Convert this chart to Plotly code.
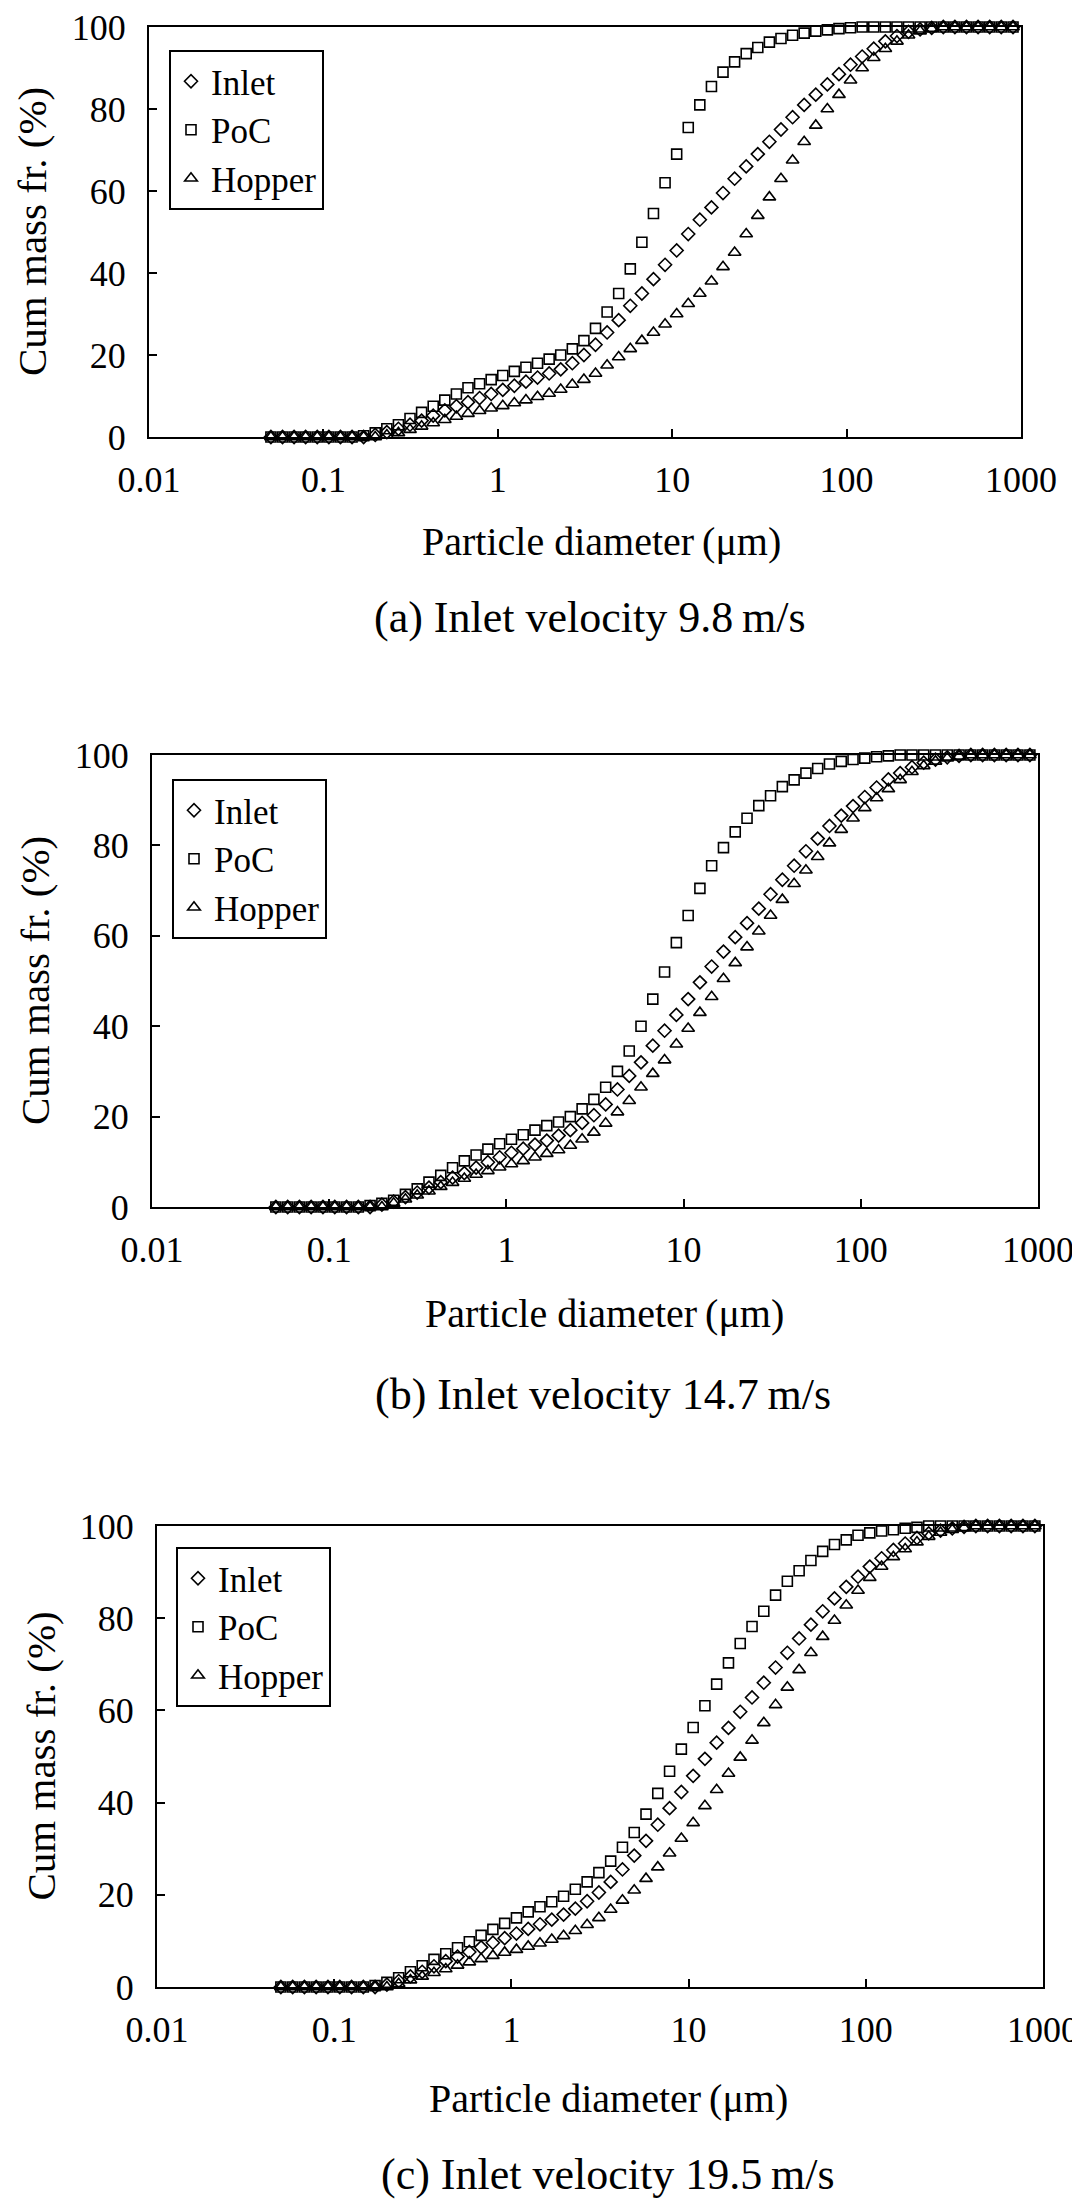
import plotly.graph_objects as go

# ---------------- data ----------------
# particle size bins (um) (log spaced, 0.05-900 um)
X_BINS = [0.05, 0.0583, 0.0679, 0.0791, 0.0922, 0.1075, 0.1253, 0.146, 0.1701, 0.1983,
          0.2311, 0.2693, 0.3138, 0.3657, 0.4262, 0.4967, 0.5789, 0.6746, 0.7862, 0.9162,
          1.068, 1.244, 1.45, 1.69, 1.97, 2.295, 2.675, 3.117, 3.633, 4.234,
          4.934, 5.75, 6.701, 7.809, 9.101, 10.61, 12.36, 14.4, 16.79, 19.56,
          22.8, 26.57, 30.96, 36.08, 42.05, 49.01, 57.11, 66.56, 77.57, 90.4,
          105.3, 122.8, 143.1, 166.8, 194.4, 226.5, 264.0, 307.6, 358.5, 417.8,
          486.9, 567.4, 661.3, 770.6, 900.0]

# (a) inlet velocity 9.8 m/s
A_INLET = [0, 0, 0, 0, 0, 0, 0, 0, 0, 0.5,
           1.2, 2, 3, 4, 5.2, 6.5, 7.5, 8.5, 9.5, 10.5,
           11.5, 12.5, 13.5, 14.5, 15.5, 16.5, 18, 20, 22.5, 25.5,
           28.5, 32, 35, 38.5, 42, 45.5, 49.5, 53, 56, 59.5,
           63, 66, 69, 72, 75, 78, 81, 83.5, 86, 88.5,
           90.8, 92.8, 94.7, 96.5, 97.8, 98.8, 99.4, 99.8, 100, 100,
           100, 100, 100, 100, 100]
A_POC = [0, 0, 0, 0, 0, 0, 0, 0, 0.3, 1,
         2, 3, 4.5, 6, 7.5, 9, 10.5, 12, 13, 14,
         15, 16, 17, 18, 19, 20, 21.5, 23.5, 26.5, 30.5,
         35, 41, 47.5, 54.5, 62, 69, 75.5, 81, 85.5, 89,
         91.5, 93.5, 95, 96.3, 97.2, 98, 98.5, 99, 99.3, 99.6,
         99.8, 100, 100, 100, 100, 100, 100, 100, 100, 100,
         100, 100, 100, 100, 100]
A_HOPPER = [0, 0, 0, 0, 0, 0, 0, 0, 0, 0,
            0.5, 1, 1.8, 2.6, 3.4, 4.2, 5, 5.7, 6.4, 7,
            7.6, 8.3, 9, 9.8, 10.6, 11.6, 12.8, 14, 15.5, 17.5,
            19.5, 21.5, 23.5, 25.5, 27.5, 30, 32.5, 35, 38, 41.5,
            45, 49.5, 54, 58.5, 63, 67.5, 72, 76, 80, 83.5,
            87, 90, 92.5, 94.7, 96.5, 98, 99, 99.6, 100, 100,
            100, 100, 100, 100, 100]

# (b) inlet velocity 14.7 m/s
B_INLET = [0, 0, 0, 0, 0, 0, 0, 0, 0, 0.5,
           1.2, 2.2, 3.2, 4.3, 5.5, 6.5, 7.5, 8.7, 9.9, 11,
           12, 12.9, 13.8, 14.7, 15.8, 17, 18.6, 20.3, 22.7, 26,
           29, 32, 35.7, 39, 42.5, 46, 49.7, 53.2, 56.5, 59.7,
           62.8, 66, 69.2, 72.4, 75.5, 78.7, 81.5, 84.3, 86.6, 88.7,
           90.7, 92.8, 94.6, 96, 97.3, 98.3, 99, 99.5, 99.8, 100,
           100, 100, 100, 100, 100]
B_POC = [0, 0, 0, 0, 0, 0, 0, 0, 0.3, 0.8,
         1.5, 2.8, 4, 5.5, 7, 8.7, 10.2, 11.5, 12.8, 14,
         15, 16, 17, 18, 18.8, 20, 21.7, 23.8, 26.5, 30,
         34.5, 40, 46, 52, 58.5, 64.5, 70.5, 75.5, 79.5, 83,
         86, 88.8, 91, 93, 94.5, 96, 97, 98, 98.6, 99,
         99.3, 99.6, 99.8, 100, 100, 100, 100, 100, 100, 100,
         100, 100, 100, 100, 100]
B_HOPPER = [0, 0, 0, 0, 0, 0, 0, 0, 0, 0,
            0.8, 1.7, 2.6, 3.5, 4.5, 5.4, 6.3, 7.2, 8, 8.8,
            9.5, 10.2, 11, 11.8, 12.6, 13.6, 15, 16.5, 18.5, 21,
            23.5, 26.5, 29.5, 32.5, 36, 39.5, 43, 46.5, 50.5, 54,
            57.5, 61, 64.5, 68, 71.5, 74.5, 77.5, 80.5, 83.5, 86,
            88.3, 90.5, 92.5, 94.5, 96.3, 97.6, 98.6, 99.3, 99.7, 100,
            100, 100, 100, 100, 100]

# (c) inlet velocity 19.5 m/s
C_INLET = [0, 0, 0, 0, 0, 0, 0, 0, 0, 0.5,
           1.3, 2.3, 3.3, 4.5, 5.6, 6.6, 7.6, 8.6, 9.6, 10.6,
           11.6, 12.6, 13.6, 14.6, 15.7, 17, 18.6, 20.5, 22.8, 25.5,
           28.5, 31.7, 35.2, 38.8, 42.3, 45.8, 49.5, 53, 56.2, 59.7,
           62.8, 66, 69.3, 72.5, 75.6, 78.6, 81.5, 84.3, 86.8, 89,
           91.2, 93, 94.8, 96.2, 97.4, 98.4, 99, 99.5, 99.8, 100,
           100, 100, 100, 100, 100]
C_POC = [0, 0, 0, 0, 0, 0, 0, 0, 0.3, 1,
         2, 3.3, 4.6, 6, 7.2, 8.5, 9.8, 11.2, 12.5, 13.8,
         15, 16.3, 17.4, 18.5, 19.7, 21.2, 22.8, 24.8, 27.3, 30.3,
         33.5, 37.5, 42, 46.8, 51.6, 56.3, 61, 65.7, 70.3, 74.5,
         78.2, 81.5, 85, 88, 90.3, 92.5, 94.5, 96, 97, 98,
         98.5, 98.9, 99.2, 99.5, 99.7, 100, 100, 100, 100, 100,
         100, 100, 100, 100, 100]
C_HOPPER = [0, 0, 0, 0, 0, 0, 0, 0, 0, 0,
            0.7, 1.5, 2.3, 3.1, 3.9, 4.7, 5.4, 6.1, 6.8, 7.5,
            8.1, 8.8, 9.5, 10.3, 11.1, 12.2, 13.5, 15, 16.8, 18.8,
            21, 23.5, 26, 29, 32.2, 35.6, 39.3, 42.8, 46.3, 49.8,
            53.5, 57.3, 61.2, 65, 68.8, 72.5, 76, 79.5, 82.8, 86,
            88.8, 91.2, 93.3, 95, 96.5, 97.7, 98.6, 99.2, 99.6, 100,
            100, 100, 100, 100, 100]

SERIES_NAMES = ["Inlet", "PoC", "Hopper"]
X_TICKS = [0.01, 0.1, 1, 10, 100, 1000]
X_TICK_TEXT = ["0.01", "0.1", "1", "10", "100", "1000"]
Y_TICKS = [0, 20, 40, 60, 80, 100]
CAPTIONS = ["(a) Inlet velocity 9.8\u2009m/s",
            "(b) Inlet velocity 14.7\u2009m/s",
            "(c) Inlet velocity 19.5\u2009m/s"]
X_TITLE = "Particle diameter\u2009(\u03bcm)"
Y_TITLE = "Cum mass fr. (%)"

# ---------------- layout (screen pixels) ----------------
W, H = 1080, 2200
OFF = 8  # page body margin offsets the figure on screen
FONT = "Liberation Serif, Times New Roman, serif"
PANELS = [
    dict(l=149, r=1021, t=27, b=437, data=(A_INLET, A_POC, A_HOPPER),
         leg=(169, 50), ytx=32, xt=(601, 542), cap=(590, 617)),
    dict(l=152, r=1038, t=755, b=1207, data=(B_INLET, B_POC, B_HOPPER),
         leg=(172, 779), ytx=35, xt=(604, 1313), cap=(603, 1394)),
    dict(l=157, r=1043, t=1526, b=1987, data=(C_INLET, C_POC, C_HOPPER),
         leg=(176, 1547), ytx=40, xt=(608, 2098), cap=(608, 2174)),
]
SYMBOLS = ["diamond-open", "square-open", "triangle-up-open"]
SIZES = [10, 10, 11]


def px(x):
    return (x - OFF) / W


def py(y):
    return 1 - (y - OFF) / H


fig = go.Figure()
annotations = []
for i, p in enumerate(PANELS):
    k = "" if i == 0 else str(i + 1)
    leg_id = "legend" + k
    for j, (name, ys) in enumerate(zip(SERIES_NAMES, p["data"])):
        fig.add_trace(go.Scatter(
            x=X_BINS, y=ys, mode="markers", name=name,
            xaxis="x" + k, yaxis="y" + k, legend=leg_id,
            cliponaxis=False,
            marker=dict(symbol=SYMBOLS[j], size=SIZES[j], color="black",
                        line=dict(color="black", width=1.6)),
        ))
    common = dict(showline=True, mirror=True, linecolor="black", linewidth=2,
                  showgrid=False, zeroline=False, ticks="inside", ticklen=8,
                  tickwidth=1.5, tickcolor="black", automargin=False,
                  ticklabeloverflow="allow",
                  tickfont=dict(family=FONT, size=36, color="black"))
    fig.update_layout(**{
        "xaxis" + k: dict(type="log", range=[-2, 3], tickvals=X_TICKS,
                          ticktext=X_TICK_TEXT, domain=[px(p["l"]), px(p["r"])],
                          anchor="y" + k, ticklabelstandoff=10, **common),
        "yaxis" + k: dict(range=[0, 100], tickvals=Y_TICKS,
                          domain=[py(p["b"]), py(p["t"])],
                          anchor="x" + k, ticklabelstandoff=14, **common),
        leg_id: dict(x=px(p["leg"][0]), y=py(p["leg"][1]), xanchor="left",
                     yanchor="top", bgcolor="white", bordercolor="black",
                     borderwidth=2, font=dict(family=FONT, size=35, color="black"),
                     itemwidth=30, tracegroupgap=0, entrywidth=130),
    })
    annotations.append(dict(text=Y_TITLE, x=px(p["ytx"]), y=py((p["t"] + p["b"]) / 2),
                            xref="paper", yref="paper", showarrow=False, textangle=-90,
                            xanchor="center", yanchor="middle",
                            font=dict(family=FONT, size=41, color="black")))
    annotations.append(dict(text=X_TITLE, x=px(p["xt"][0]), y=py(p["xt"][1]),
                            xref="paper", yref="paper", showarrow=False,
                            xanchor="center", yanchor="middle",
                            font=dict(family=FONT, size=40, color="black")))
    annotations.append(dict(text=CAPTIONS[i], x=px(p["cap"][0]), y=py(p["cap"][1]),
                            xref="paper", yref="paper", showarrow=False,
                            xanchor="center", yanchor="middle",
                            font=dict(family=FONT, size=44, color="black")))

fig.update_layout(width=W, height=H,
                  margin=dict(l=0, r=0, t=0, b=0, pad=0, autoexpand=False),
                  paper_bgcolor="white", plot_bgcolor="white",
                  annotations=annotations, showlegend=True)
fig.write_html("out.html")
